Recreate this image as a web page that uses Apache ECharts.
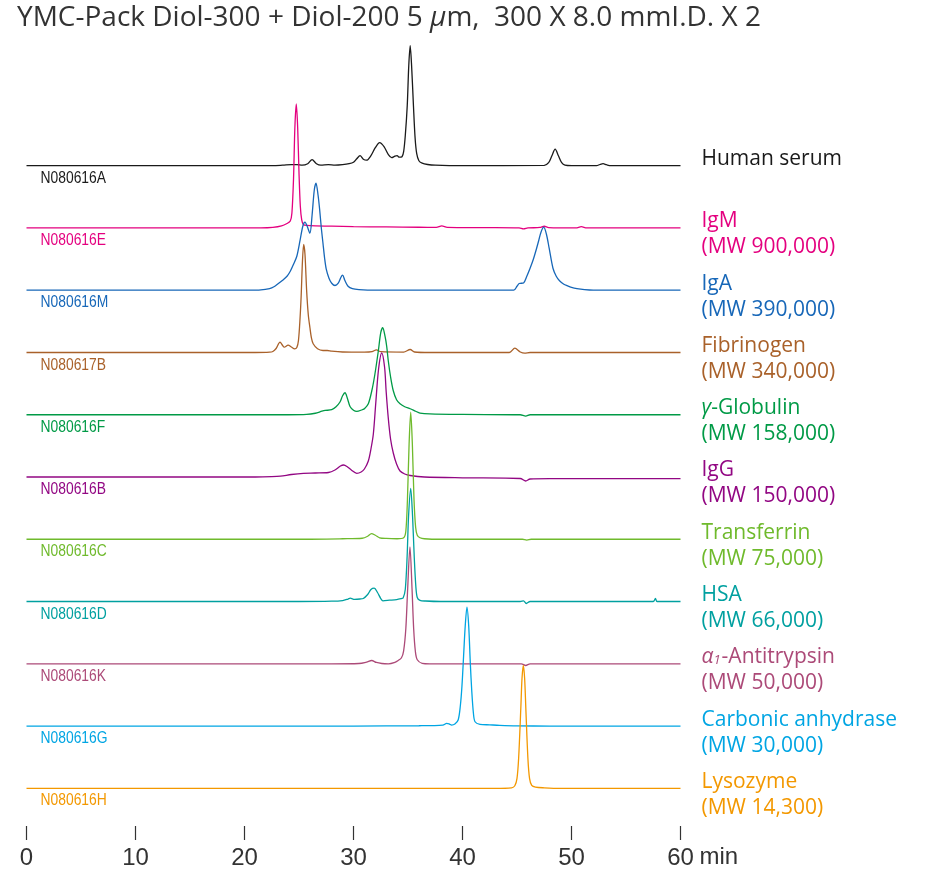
<!DOCTYPE html>
<html><head><meta charset="utf-8">
<script src="https://cdn.jsdelivr.net/npm/echarts@6/dist/echarts.min.js"></script>
<style>html,body{margin:0;padding:0;background:#fff}#c{width:925px;height:877px}</style>
</head><body><div id="c"></div>
<script>
// ---------- data ----------
const sampleNames = ['Human serum','IgM','IgA','Fibrinogen','{g|γ}-Globulin','IgG','Transferrin','HSA','{g|α}{s|1}-Antitrypsin','Carbonic anhydrase','Lysozyme'];
const mwLabels = ['', '(MW 900,000)','(MW 390,000)','(MW 340,000)','(MW 158,000)','(MW 150,000)','(MW 75,000)','(MW 66,000)','(MW 50,000)','(MW 30,000)','(MW 14,300)'];
const sampleIds = ['N080616A','N080616E','N080616M','N080617B','N080616F','N080616B','N080616C','N080616D','N080616K','N080616G','N080616H'];
const traceColors = ['#1a1a1a','#e4007f','#1767b8','#a9612a','#009a46','#920783','#6fba2c','#00a0a0','#ac4a78','#00a5e3','#f39800'];
const xTickLabels = ['0','10','20','30','40','50','60'];
const xUnit = 'min';
const titleText = 'YMC-Pack Diol-300 + Diol-200 5 {i|μ}m,  300 X 8.0 mmI.D. X 2';

// [time (min), signal]
const humanSerum = [[0,0],[22,0],[23.5,0.5],[24.3,1],[24.8,1],[25.3,0.5],[25.8,2],[26.2,6],[26.6,2],[27.0,0.5],[27.7,1],[28.3,0.5],[29.0,1],[29.6,2],[30.0,3.5],[30.3,7],[30.6,10],[30.9,6.5],[31.2,5.5],[31.6,10],[32.0,18],[32.4,23],[32.8,19],[33.2,11],[33.5,8],[33.8,9.5],[34.0,10],[34.2,8.5],[34.45,9],[34.6,14],[34.75,30],[34.93,60],[35.07,100],[35.2,120],[35.33,100],[35.5,60],[35.65,28],[35.8,12],[36.0,5],[36.3,2.5],[36.8,1.2],[37.5,0.5],[40,0],[47.5,0.3],[47.9,3],[48.2,10],[48.5,16.5],[48.8,10],[49.1,3],[49.4,0.5],[50,0],[52.3,0],[52.6,1.2],[52.9,2],[53.2,1],[53.6,0],[60,0]];
const igM = [[0,0],[21.5,0],[22.6,0.5],[23.4,2],[23.9,4.5],[24.2,7],[24.35,15],[24.5,50],[24.62,100],[24.75,124],[24.88,100],[25.0,55],[25.12,22],[25.25,8],[25.4,3.5],[25.7,2.5],[26.5,2],[28,1.8],[30,1.3],[33,1],[36,0.7],[37.6,0.6],[38.1,2],[38.6,0.6],[42,0.3],[45.2,0],[45.6,-1],[46.0,0],[47.1,0.5],[47.5,1.7],[47.9,0.4],[50.4,0],[50.9,1.3],[51.4,0],[60,0]];
const igA = [[0,0],[20.5,0],[21.5,0.3],[22.3,1.7],[22.7,3.5],[23.1,6.7],[23.5,10],[23.9,14],[24.2,19],[24.5,26],[24.8,34],[25.1,50],[25.35,64],[25.55,68],[25.75,64],[26.0,57],[26.2,75],[26.4,100],[26.56,107],[26.75,95],[26.9,80],[27.05,62],[27.2,47],[27.35,32],[27.5,21],[27.75,12],[28.0,7],[28.3,4.7],[28.6,7],[28.85,13],[29.0,15],[29.2,10],[29.5,4],[29.9,1.5],[30.5,0.6],[32,0],[44.7,0],[45.0,4],[45.2,6.7],[45.6,7.3],[45.9,14],[46.2,22],[46.5,31],[46.8,42],[47.0,50],[47.2,58],[47.45,63],[47.7,56],[47.95,42],[48.3,22],[48.6,14],[48.9,9.5],[49.3,6],[49.6,4.5],[50.0,2.8],[50.5,1.5],[51.2,0.5],[52,0],[60,0]];
const fibrinogen = [[0,0],[21,0],[22.3,0.3],[22.6,1],[22.9,4],[23.26,10.3],[23.5,7],[23.65,5.3],[24.0,7.3],[24.3,5.5],[24.6,3.7],[24.8,5],[24.95,12],[25.1,35],[25.2,57],[25.32,92],[25.43,108],[25.55,98],[25.7,62],[25.85,38],[26.0,25],[26.15,14],[26.3,8.7],[26.7,3.7],[27.2,2],[27.6,2],[28,1.3],[29,0.5],[31,0.3],[31.7,0.8],[32.1,2.7],[32.5,0.8],[34.6,0.4],[35.2,3],[35.6,0.5],[37,0],[44.3,0],[44.8,4.3],[45.3,0.5],[45.7,-0.7],[46.2,0],[60,0]];
const gammaGlobulin = [[0,0],[24,0],[25.7,0.3],[26.5,1.5],[27.1,3.5],[27.4,4.3],[28.0,5],[28.4,8],[28.76,12.7],[29.0,19],[29.22,22],[29.45,16],[29.68,8.3],[30.0,4.5],[30.3,3.3],[30.8,5],[31.0,6],[31.36,11],[31.7,25],[31.97,41],[32.28,64],[32.5,82],[32.68,87],[32.9,78],[33.05,68],[33.19,54],[33.4,38],[33.65,24],[33.95,15],[34.27,11],[34.7,8],[35.2,6],[35.7,3.5],[36.1,1.7],[37,0.8],[40,0.3],[45.3,0],[45.8,-1.3],[46.2,0],[60,0]];
const igG = [[0,0],[21,0],[22.5,0.3],[23.3,0.8],[24.3,2.5],[25.4,3.7],[26.5,4],[27.7,4.5],[28.3,7],[28.8,11],[29.1,12],[29.4,10.5],[29.8,7],[30.3,3.7],[30.7,5],[31.0,8],[31.36,16],[31.6,28],[31.82,43],[32.05,75],[32.3,108],[32.59,124],[32.85,110],[33.0,85],[33.19,59],[33.4,38],[33.65,24],[33.95,13],[34.27,6],[34.7,3],[35.2,1.5],[36.5,0],[40,-0.8],[45.3,-1.5],[45.8,-4],[46.2,-2],[48,-1.7],[60,-1.7]];
const transferrin = [[0,0],[25,0],[29,0.5],[30.8,1],[31.3,3],[31.65,5.7],[32.0,4],[32.4,1.5],[33,0.8],[34.0,0.5],[34.6,1.5],[34.8,8],[34.95,40],[35.1,95],[35.25,127],[35.4,95],[35.55,40],[35.7,12],[35.85,4],[36.1,1.5],[36.5,0.5],[38,0],[45.5,0],[45.9,-0.8],[46.3,0],[60,0]];
const hsa = [[0,0],[25,0],[28,0.3],[29.0,1],[29.5,2.5],[29.7,3.3],[30.1,2.2],[30.6,2.5],[30.9,3],[31.3,7],[31.6,12],[31.9,13.3],[32.2,9],[32.5,3],[32.7,0.7],[33.3,1.3],[33.96,2],[34.4,3],[34.55,3.5],[34.75,12],[34.92,45],[35.05,85],[35.25,113],[35.42,85],[35.57,45],[35.72,15],[35.85,4],[36.1,1.2],[36.6,0.5],[38,0],[45.3,0],[45.6,0.7],[45.85,-2],[46.2,0],[57.5,0],[57.7,3],[57.85,0],[60,0]];
const a1Antitrypsin = [[0,0],[28,0],[30.5,0.3],[31.2,1.7],[31.67,3.3],[32.1,1.3],[32.6,0.3],[33.2,0],[33.8,1.5],[34.1,3.3],[34.4,6],[34.6,13],[34.8,35],[34.97,75],[35.18,117],[35.37,75],[35.52,35],[35.68,12],[35.85,4],[36.3,0.5],[37,0],[45.4,0],[45.8,-1.7],[46.2,0],[60,0]];
const carbonicAnhydrase = [[0,0],[30,0],[36,0.3],[38.2,1],[38.55,2.7],[38.8,2],[39.0,1],[39.3,2],[39.6,6],[39.8,20],[39.95,40],[40.1,70],[40.25,100],[40.41,119],[40.57,100],[40.72,62],[40.85,35],[41.0,13],[41.15,4.3],[41.6,1.7],[42.5,1.2],[43.4,0.7],[45,0.2],[48,0],[60,0]];
const lysozyme = [[0,0],[43,0],[44.5,0.5],[44.8,2.5],[45.0,10],[45.15,30],[45.35,80],[45.46,110],[45.58,123],[45.7,110],[45.81,80],[46.0,30],[46.15,10],[46.35,3],[46.7,1.2],[47.5,0.5],[49,0],[60,0]];

const traces = [humanSerum, igM, igA, fibrinogen, gammaGlobulin, igG, transferrin, hsa, a1Antitrypsin, carbonicAnhydrase, lysozyme];

// ---------- layout ----------
const GRID = {left: 26.5, right: 244.5, top: 40, bottom: 51};
const Y_MAX = 786;          // grid height in signal units
const TOP_OFFSET = 660.3;   // vertical offset of first trace
const STEP = 62.26;         // vertical offset between traces
const offsets = traces.map((_, i) => TOP_OFFSET - STEP * i);

const LABEL_FONT = '"Open Sans", "Noto Sans", sans-serif';
const AXIS_FONT = '"Liberation Sans", Arial, sans-serif';

const chart = echarts.init(document.getElementById('c'), null, {renderer: 'canvas'});

const series = traces.map((d, i) => ({
  type: 'line',
  data: d.map(p => [p[0], p[1] + offsets[i]]),
  smooth: 0.3,
  symbol: 'none',
  clip: false,
  silent: true,
  lineStyle: {color: traceColors[i], width: 1.3},
  z: 2 + i
}));

chart.setOption({
  animation: false,
  backgroundColor: '#fff',
  grid: GRID,
  xAxis: {
    type: 'value', min: 0, max: 60, interval: 10,
    axisLine: {show: false},
    splitLine: {show: false},
    axisTick: {show: true, length: 14, lineStyle: {color: '#333', width: 1.2}},
    axisLabel: {
      margin: 20, color: '#333', fontSize: 24, fontFamily: AXIS_FONT,
      formatter: v => xTickLabels[Math.round(v / 10)]
    }
  },
  yAxis: {type: 'value', min: 0, max: Y_MAX, show: false},
  series: series
});

const graphics = [];
graphics.push({
  type: 'text', left: 17, top: 4, silent: true,
  style: {
    text: titleText, fill: '#333', font: '28px ' + LABEL_FONT,
    rich: {i: {fontStyle: 'italic', fontSize: 28, fontFamily: LABEL_FONT, fill: '#333'}}
  }
});
const axisEnd = chart.convertToPixel({gridIndex: 0}, [60, 0]);
graphics.push({
  type: 'text', x: axisEnd[0] + 19, y: 857, silent: true,
  style: {text: xUnit, fill: '#333', fontSize: 24, fontFamily: AXIS_FONT, verticalAlign: 'middle', align: 'left'}
});
traces.forEach((d, i) => {
  const base = chart.convertToPixel({gridIndex: 0}, [60, offsets[i]]);
  const startPx = chart.convertToPixel({gridIndex: 0}, [0, offsets[i]]);
  const c = traceColors[i];
  const txt = mwLabels[i] ? sampleNames[i] + '\n' + mwLabels[i] : sampleNames[i];
  graphics.push({
    type: 'text', x: base[0] + 21, y: base[1] - 19.5, silent: true,
    style: {
      text: txt, fill: c, fontSize: 21, fontFamily: LABEL_FONT, lineHeight: 26,
      verticalAlign: 'top', align: 'left',
      rich: {
        g: {fontStyle: 'italic', fontSize: 21, fontFamily: LABEL_FONT, fill: c, lineHeight: 26},
        s: {fontStyle: 'italic', fontSize: 13, fontFamily: LABEL_FONT, fill: c, lineHeight: 26, padding: [7, 1, 0, 0]}
      }
    }
  });
  graphics.push({
    type: 'text', x: startPx[0] + 14, y: startPx[1] + 12.5, scaleX: 0.84, silent: true,
    style: {
      text: sampleIds[i], fill: c, fontSize: 16.5, fontFamily: AXIS_FONT,
      verticalAlign: 'middle', align: 'left'
    }
  });
});
chart.setOption({graphic: graphics});
</script>
</body></html>
